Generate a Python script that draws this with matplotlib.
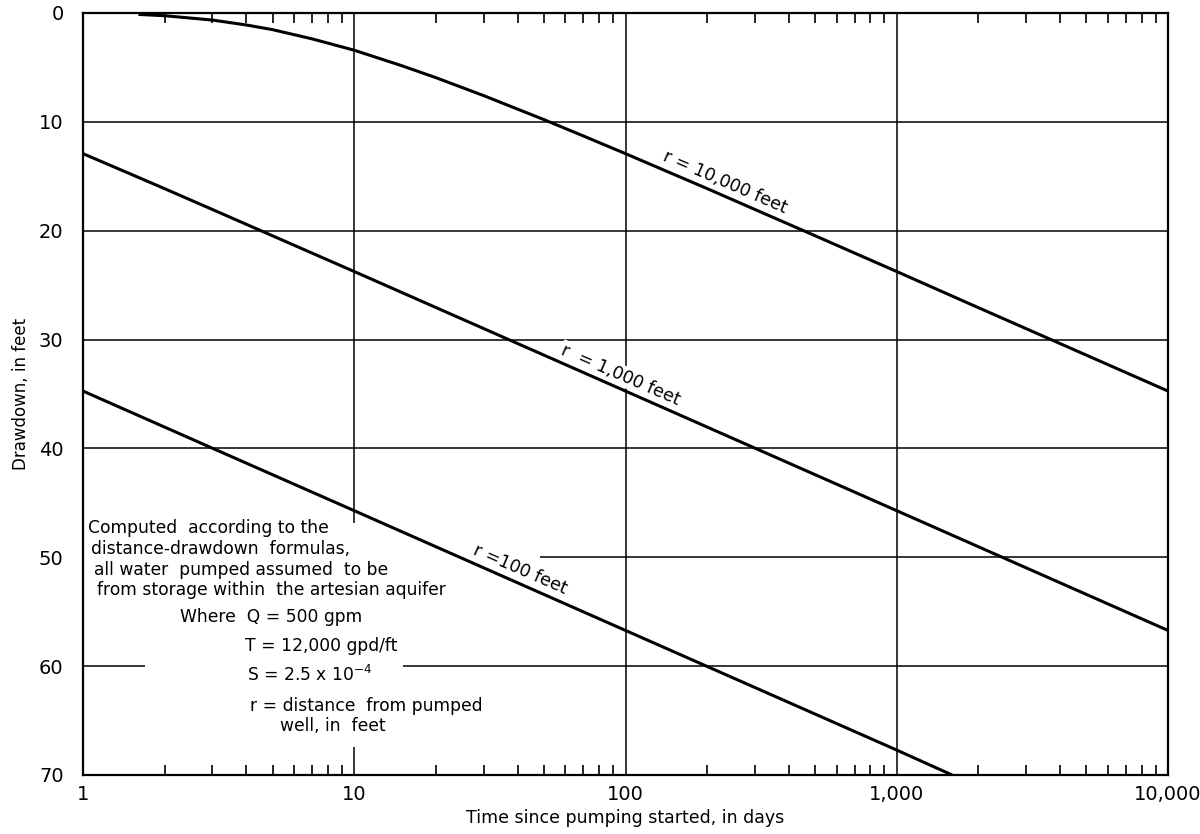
import matplotlib
matplotlib.use("Agg")
import matplotlib.pyplot as plt
import matplotlib.patches as patches
from matplotlib.ticker import LogLocator, NullFormatter, FixedLocator, FixedFormatter
import numpy as np

# values (time in days, drawdown in feet)
t_10000 = [1.6, 2, 3, 4, 5, 7, 10, 15, 20, 30, 50, 70, 100, 150, 200, 300, 500, 700, 1000, 2000, 5000, 10000]
s_10000 = [0.13, 0.25, 0.65, 1.1, 1.53, 2.38, 3.42, 4.85, 5.94, 7.59, 9.79, 11.3, 12.92, 14.8, 16.13, 18.05,
           20.46, 22.06, 23.75, 27.07, 31.43, 34.73]

t_1000 = [1, 1.5, 2, 3, 5, 10, 100, 1000, 10000]
s_1000 = [12.92, 14.8, 16.14, 18.05, 20.47, 23.75, 34.73, 45.72, 56.72]

t_100 = [1, 3, 10, 100, 1000, 1600]
s_100 = [34.73, 39.98, 45.72, 56.72, 67.71, 70.0]

x_ticks = [1, 10, 100, 1000, 10000]
x_labels = ["1", "10", "100", "1,000", "10,000"]
y_ticks = [0, 10, 20, 30, 40, 50, 60, 70]

W, H = 1200, 834
L, R, T, B = 83, 1168, 13, 775

fig = plt.figure(figsize=(12, 8.34), dpi=100)
ax = fig.add_axes([L / W, 1 - B / H, (R - L) / W, (B - T) / H])


def ax_xy(px, py):
    # pixel position in the picture -> axes fraction
    return (px - L) / (R - L), 1 - (py - T) / (B - T)


ax.set_xscale("log")
ax.set_xlim(1, 10000)
ax.set_ylim(70, 0)

ax.xaxis.set_major_locator(FixedLocator(x_ticks))
ax.xaxis.set_major_formatter(FixedFormatter(x_labels))
ax.xaxis.set_minor_locator(LogLocator(base=10, subs=np.arange(2, 10)))
ax.xaxis.set_minor_formatter(NullFormatter())
ax.set_yticks(y_ticks)

ax.tick_params(axis="both", which="major", length=0, labelsize=14, pad=7)
ax.tick_params(axis="x", which="minor", direction="in", top=True, bottom=True, length=7, width=1.2)
ax.tick_params(axis="y", which="major", pad=14)

for sp in ax.spines.values():
    sp.set_linewidth(1.6)

ax.set_axisbelow(True)
ax.grid(True, which="major", color="black", lw=1.1)

# gaps in the grid behind the note block
for (x0, y0, x1, y1) in [(84, 550, 540, 564), (145, 660, 403, 672), (346, 523, 358, 747)]:
    ax0, ay1 = ax_xy(x0, y0)
    ax1, ay0 = ax_xy(x1, y1)
    ax.add_patch(patches.Rectangle((ax0, ay0), ax1 - ax0, ay1 - ay0, transform=ax.transAxes,
                                   fc="white", ec="none", zorder=1))

ax.plot(t_10000, s_10000, color="black", lw=2.2, zorder=2, solid_capstyle="butt")
ax.plot(t_1000, s_1000, color="black", lw=2.2, zorder=2, solid_capstyle="butt")
ax.plot(t_100, s_100, color="black", lw=2.2, zorder=2, solid_capstyle="butt")

lbl = dict(rotation=-23.5, rotation_mode="anchor", ha="center", va="bottom", fontsize=12.5,
           zorder=1.5, bbox=dict(fc="white", ec="none", pad=1))
ax.text(225, 16.3, "r = 10,000 feet", **lbl)
ax.text(93, 34.0, "r  = 1,000 feet", **lbl)
ax.text(39.8, 51.9, "r =100 feet", **lbl)

note = [
    (88, 528, "Computed  according to the"),
    (91, 549, "distance-drawdown  formulas,"),
    (94, 570, "all water  pumped assumed  to be"),
    (97, 590, "from storage within  the artesian aquifer"),
    (180, 617, "Where  Q = 500 gpm"),
    (245, 646, "T = 12,000 gpd/ft"),
    (247, 675, "S = 2.5 x 10$^{-4}$"),
    (250, 706, "r = distance  from pumped"),
    (280, 726, "well, in  feet"),
]
for px, py, s in note:
    x, y = ax_xy(px, py)
    ax.text(x, y, s, transform=ax.transAxes, ha="left", va="center", fontsize=12.3, zorder=3)

ax.set_xlabel("Time since pumping started, in days", fontsize=12.5, labelpad=4)
ax.set_ylabel("Drawdown, in feet", fontsize=12, labelpad=6)

fig.savefig("out.png", dpi=100, facecolor="white")
